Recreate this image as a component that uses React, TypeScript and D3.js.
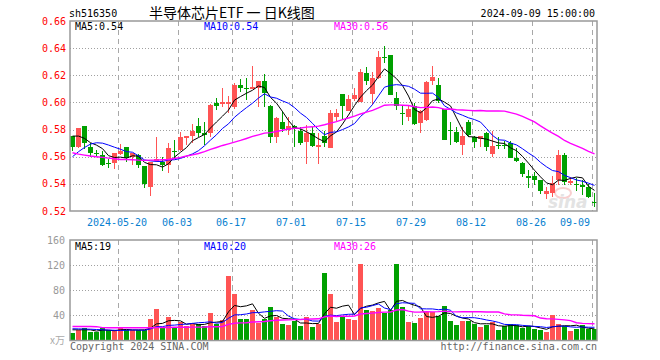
import React from "react";
import * as d3 from "d3";

// ---- data ----
const openP = [
  0.5752, 0.5673, 0.5826, 0.5673, 0.5624, 0.5612, 0.555, 0.5555, 0.5619, 0.5668,
  0.5595, 0.5612, 0.5531, 0.5379, 0.5565, 0.5563, 0.5538, 0.5644, 0.5649, 0.5735,
  0.5752, 0.5826, 0.5777, 0.5777, 0.5998, 0.5988, 0.5988, 0.5963, 0.6125, 0.611,
  0.6101, 0.611, 0.6157, 0.5973, 0.5747, 0.5857, 0.5796, 0.5826, 0.5791, 0.5708,
  0.5772, 0.5673, 0.5752, 0.5661, 0.5894, 0.6061, 0.5939, 0.6022, 0.6005, 0.6219,
  0.6061, 0.6177, 0.6336, 0.6349, 0.6029, 0.5924, 0.5889, 0.5973, 0.5845, 0.587,
  0.616, 0.6128, 0.5948, 0.5796, 0.5784, 0.569, 0.5857, 0.5747, 0.5728, 0.5777,
  0.5619, 0.569, 0.569, 0.5698, 0.559, 0.5555, 0.546, 0.546, 0.5428, 0.5325,
  0.533, 0.5428, 0.5612, 0.5403, 0.5398, 0.5391, 0.5379, 0.5265,
];
const highP = [
  0.5752, 0.5812, 0.583, 0.5698, 0.5649, 0.5644, 0.558, 0.5629, 0.5693, 0.5672,
  0.5628, 0.5619, 0.5535, 0.5563, 0.5742, 0.5595, 0.5698, 0.5722, 0.5784, 0.5755,
  0.584, 0.5882, 0.5857, 0.5985, 0.6029, 0.6103, 0.605, 0.614, 0.617, 0.6177,
  0.6268, 0.6157, 0.6209, 0.598, 0.5889, 0.5939, 0.5889, 0.5833, 0.5821, 0.5833,
  0.5816, 0.5772, 0.5791, 0.5943, 0.5948, 0.6065, 0.6054, 0.6103, 0.625, 0.6263,
  0.6226, 0.638, 0.6415, 0.6352, 0.6078, 0.5973, 0.5973, 0.5998, 0.5945, 0.6155,
  0.6268, 0.6177, 0.595, 0.5857, 0.5821, 0.5821, 0.5874, 0.575, 0.5755, 0.578,
  0.5791, 0.5747, 0.5718, 0.5718, 0.5661, 0.556, 0.5502, 0.549, 0.543, 0.5378,
  0.5457, 0.5649, 0.5629, 0.5452, 0.5442, 0.5428, 0.5398, 0.533,
];
const lowP = [
  0.5644, 0.5665, 0.566, 0.56, 0.5595, 0.553, 0.5514, 0.5506, 0.5612, 0.5563,
  0.5538, 0.5514, 0.5366, 0.5312, 0.556, 0.5497, 0.5477, 0.5587, 0.5645, 0.5686,
  0.5703, 0.5742, 0.5686, 0.5747, 0.5943, 0.597, 0.592, 0.5955, 0.6075, 0.6017,
  0.6096, 0.5965, 0.5963, 0.5698, 0.5703, 0.5784, 0.5757, 0.5674, 0.5686, 0.5543,
  0.5674, 0.5543, 0.5668, 0.5661, 0.5865, 0.587, 0.5935, 0.6012, 0.6, 0.6128,
  0.598, 0.6175, 0.6287, 0.6054, 0.5943, 0.5833, 0.586, 0.5833, 0.5777, 0.5865,
  0.6128, 0.5993, 0.5722, 0.5686, 0.5703, 0.5609, 0.5747, 0.5661, 0.5668, 0.5644,
  0.56, 0.5656, 0.5656, 0.5587, 0.556, 0.5447, 0.5366, 0.539, 0.5324, 0.5285,
  0.5306, 0.539, 0.539, 0.539, 0.5351, 0.5315, 0.5293, 0.5231,
];
const closeP = [
  0.5668, 0.5808, 0.5698, 0.5629, 0.5624, 0.5538, 0.555, 0.5629, 0.5644, 0.5587,
  0.5624, 0.5538, 0.5398, 0.5563, 0.558, 0.5538, 0.5661, 0.5644, 0.5742, 0.5752,
  0.5791, 0.5777, 0.5759, 0.598, 0.5973, 0.6005, 0.6, 0.6128, 0.611, 0.6096,
  0.6115, 0.6157, 0.6071, 0.5747, 0.5882, 0.5806, 0.5826, 0.5808, 0.5703, 0.5777,
  0.5681, 0.569, 0.5703, 0.5919, 0.5919, 0.5973, 0.6022, 0.6054, 0.6226, 0.616,
  0.6177, 0.6336, 0.6336, 0.6054, 0.5973, 0.5924, 0.5948, 0.584, 0.5935, 0.6152,
  0.6189, 0.6012, 0.5722, 0.5796, 0.571, 0.5752, 0.5759, 0.571, 0.5752, 0.5674,
  0.5681, 0.569, 0.569, 0.5593, 0.5568, 0.5472, 0.544, 0.5428, 0.5349, 0.5347,
  0.5403, 0.5612, 0.5415, 0.5423, 0.5398, 0.5374, 0.53, 0.5265,
];
// volume, 万
const volume = [
  11.7, 17, 20, 13, 13, 20, 16, 16, 20, 16,
  16, 16, 17, 33.6, 49.6, 20, 36.8, 20, 30, 22.4,
  26.7, 26.7, 22.4, 43.7, 26.7, 32, 103, 73.6, 33.6, 33.6,
  48, 27.7, 33.6, 52.8, 36.8, 25.6, 24, 30.4, 22.4, 36.8,
  20.8, 25.6, 107.7, 73.6, 29.3, 37.3, 33.6, 32, 122, 48,
  46.4, 51.2, 43.7, 49, 122, 52.8, 29.3, 27.2, 36.3, 45.3,
  45.9, 38.4, 54.4, 30.9, 24, 30.9, 30.9, 25.6, 21.3, 25,
  29.3, 16, 22.4, 26.7, 24, 19.7, 22.4, 18.1, 16, 12.8,
  40, 26.7, 22.4, 14.9, 17.6, 25, 17.6, 17.6,
];
const priceMa5Head = [0.5752, 0.5752, 0.5735, 0.5703];
const priceMa10Head = [0.56, 0.5637, 0.5668, 0.5693, 0.5703, 0.57, 0.5686, 0.567, 0.5655];
const priceMa30Head = [
  0.5629, 0.5619, 0.5612, 0.5605, 0.56, 0.5595, 0.559, 0.5585, 0.558, 0.558,
  0.5578, 0.5575, 0.5573, 0.5575, 0.5575, 0.5578, 0.558, 0.5587, 0.5595, 0.5605,
  0.5614, 0.5624, 0.5637, 0.5654, 0.5668, 0.5683, 0.5695, 0.5708, 0.572,
];
const volMa5Head = [17, 17, 17, 17];
const volMa10Head = [18.7, 18.5, 18.2, 18, 17.5, 17, 16.6, 16.3, 16];
const volMa30Head = [
  22.4, 22.4, 22.4, 22.4, 22.0, 20.5, 20.3, 20.3, 20.3, 20.3,
  20.3, 20.3, 20.3, 20.3, 20.5, 20.8, 20.8, 21, 21, 21,
  21.3, 21.3, 21.5, 22, 22, 22.4, 25.6, 27.5, 28,
];

const priceTicks = [0.66, 0.64, 0.62, 0.6, 0.58, 0.56, 0.54, 0.52];
const volTicks = [160, 120, 80, 40];
const dateTickIdx = [8, 18, 27, 37, 47, 57, 67, 77, 87];
const dateTickLabels = ["2024-05-20", "06-03", "06-17", "07-01", "07-15", "07-29", "08-12", "08-26", "09-09"];

const code = "sh516350";
const title = "半导体芯片ETF 一 日K线图";
const stamp = "2024-09-09 15:00:00";
const priceMaLabels = ["MA5:0.54", "MA10:0.54", "MA30:0.56"];
const volMaLabels = ["MA5:19", "MA10:20", "MA30:26"];
const volUnit = "万";

// ---- layout ----
const W = 660, H = 360;
const L = 70, R = 597;
const PT = 21, PB = 211;
const VT = 240, VB = 340.5;
const RED = "#ff5454";
const GREEN = "#00a000";
const MONO = "'DejaVu Sans Mono', 'Liberation Mono', monospace";
const MA_COLORS = ["#000000", "#0000ff", "#ff00ff"];
const MA_X = [75, 204, 334];

function movingAvg(values: number[], n: number, head: number[]) {
  return values.map((_, i) => (i < n - 1 ? head[i] : (d3.mean(values.slice(i - n + 1, i + 1)) as number)));
}

export default function App() {
  const N = closeP.length;
  const x = d3.scaleLinear().domain([0, N]).range([L, L + 6 * N]);
  const yP = d3.scaleLinear().domain([0.52, 0.66]).range([PB, PT]);
  const yV = d3.scaleLinear().domain([0, 160]).range([VB, VT]);
  const cx = (i: number) => x(i) + 2.5;

  const pMa = [
    movingAvg(closeP, 5, priceMa5Head),
    movingAvg(closeP, 10, priceMa10Head),
    movingAvg(closeP, 30, priceMa30Head),
  ];
  const vMa = [
    movingAvg(volume, 5, volMa5Head),
    movingAvg(volume, 10, volMa10Head),
    movingAvg(volume, 30, volMa30Head),
  ];
  const lineP = d3.line<number>().x((_, i) => cx(i)).y((d) => yP(d));
  const lineV = d3.line<number>().x((_, i) => cx(i)).y((d) => yV(d));

  const up = (i: number) => closeP[i] > openP[i];

  return (
    <svg
      width={W}
      height={H}
      viewBox={`0 0 ${W} ${H}`}
      style={{ position: "absolute", left: 0, top: 0, background: "#fff" }}
      fontFamily={MONO}
      fontSize={10}
    >
      <rect x={0} y={0} width={W} height={H} fill="#fff" />
      {/* header */}
      <text x={69} y={16.5} fill="#000">{code}</text>
      <text x={149} y={17.5} fill="#000" fontFamily="'Noto Sans CJK SC', sans-serif" fontSize={14}>{title}</text>
      <text x={595} y={16.5} fill="#000" textAnchor="end">{stamp}</text>

      {/* price grid */}
      {priceTicks.slice(1, -1).map((t) => (
        <line key={"pg" + t} x1={L} x2={R} y1={Math.round(yP(t)) + 0.5} y2={Math.round(yP(t)) + 0.5}
          stroke="#a0a0a0" strokeDasharray="1,2" />
      ))}
      {dateTickIdx.map((i) => (
        <line key={"pv" + i} x1={x(i) + 0.5} x2={x(i) + 0.5} y1={PT} y2={PB} stroke="#a8a8a8" strokeDasharray="5,4" />
      ))}
      {/* volume grid */}
      {volTicks.slice(1).map((t) => (
        <line key={"vg" + t} x1={L} x2={R} y1={Math.round(yV(t)) + 0.5} y2={Math.round(yV(t)) + 0.5}
          stroke="#a0a0a0" strokeDasharray="1,2" />
      ))}
      {dateTickIdx.map((i) => (
        <line key={"vv" + i} x1={x(i) + 0.5} x2={x(i) + 0.5} y1={VT} y2={VB} stroke="#a8a8a8" strokeDasharray="5,4" />
      ))}

      {/* price axis labels */}
      {priceTicks.map((t) => (
        <text key={"pl" + t} x={66} y={yP(t) + 3.5} fill="#ff0000" textAnchor="end">{t.toFixed(2)}</text>
      ))}
      {/* date labels */}
      {dateTickIdx.map((i, k) => {
        const last = k === dateTickIdx.length - 1;
        return (
          <text key={"dl" + i} x={last ? 590 : x(i) - 1} y={225.5} fill="#0a7fd0" textAnchor={last ? "end" : "middle"}>
            {dateTickLabels[k]}
          </text>
        );
      })}
      {/* volume axis labels */}
      {volTicks.map((t) => (
        <text key={"vl" + t} x={65} y={yV(t) + 3.5} fill="#999" textAnchor="end">{t}</text>
      ))}
      <text x={65} y={343.5} fill="#aaa" textAnchor="end" fontFamily="'Noto Sans CJK SC', sans-serif" fontSize={10}>{"x" + volUnit}</text>

      {/* watermark */}
      <g opacity={0.5}>
        <ellipse cx={563} cy={193} rx={8} ry={5} fill="none" stroke="#f3a0a0" strokeWidth={2} />
        <text x={548} y={208} fill="#c8c8c8" fontFamily="'DejaVu Sans', sans-serif" fontStyle="italic" fontWeight="bold" fontSize={17}>sina</text>
      </g>

      {/* candles */}
      {closeP.map((c, i) => {
        const color = up(i) ? RED : GREEN;
        const top = Math.round(yP(Math.max(openP[i], c)));
        const bot = Math.round(yP(Math.min(openP[i], c)));
        return (
          <g key={"c" + i}>
            <rect x={x(i) + 2} y={Math.round(yP(highP[i]))} width={1} height={Math.max(1, Math.round(yP(lowP[i])) - Math.round(yP(highP[i])))} fill={color} />
            <rect x={x(i)} y={top} width={5} height={Math.max(1, bot - top)} fill={color} />
          </g>
        );
      })}
      {/* price MAs */}
      {pMa.map((s, k) => (
        <path key={"pm" + k} d={lineP(s) as string} fill="none" stroke={MA_COLORS[k]} strokeWidth={k === 2 ? 1.4 : 1} />
      ))}

      {/* volume bars */}
      {volume.map((v, i) => (
        <rect key={"v" + i} x={x(i)} y={Math.round(yV(v))} width={5} height={VB - Math.round(yV(v))} fill={up(i) ? RED : GREEN} />
      ))}
      {vMa.map((s, k) => (
        <path key={"vm" + k} d={lineV(s) as string} fill="none" stroke={MA_COLORS[k]} strokeWidth={k === 2 ? 1.4 : 1} />
      ))}

      {/* frames */}
      <rect x={L} y={PT} width={R - L} height={PB - PT} fill="none" stroke="#999" strokeWidth={1.5} />
      <rect x={L} y={VT} width={R - L} height={VB - VT} fill="none" stroke="#999" strokeWidth={1.5} />

      {/* MA labels */}
      {priceMaLabels.map((t, k) => (
        <text key={"pml" + k} x={MA_X[k]} y={29.5} fill={MA_COLORS[k]}>{t}</text>
      ))}
      {volMaLabels.map((t, k) => (
        <text key={"vml" + k} x={MA_X[k]} y={249.5} fill={MA_COLORS[k]}>{t}</text>
      ))}

      {/* footer */}
      <text x={70} y={350} fill="#666">Copyright 2024 SINA.COM</text>
      <text x={597} y={350} fill="#666" textAnchor="end">http://finance.sina.com.cn</text>
    </svg>
  );
}
